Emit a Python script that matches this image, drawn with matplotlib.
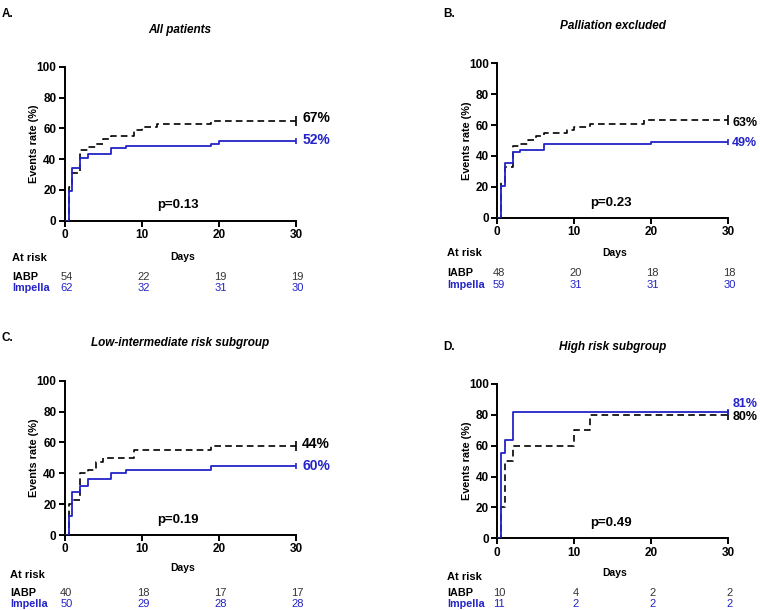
import numpy as np
import matplotlib
matplotlib.use('Agg')
import matplotlib.pyplot as plt
from matplotlib import transforms

plt.rcParams['font.family'] = ['Liberation Sans', 'DejaVu Sans']

# ---- data ----
a_iabp_days = [0, 0.5, 1, 2, 3, 4, 5, 6, 9, 10, 12, 19, 30]
a_iabp_rate = [0, 22, 31, 46, 48, 50, 53, 55, 59, 61, 63, 65, 65]
a_imp_days = [0, 0.5, 1, 2, 3, 6, 8, 19, 20, 30]
a_imp_rate = [0, 19.5, 34, 40.5, 43.5, 47, 48.5, 50, 52, 52]

b_iabp_days = [0, 0.5, 1, 2, 3, 4, 5, 6, 9, 10, 12, 19, 30]
b_iabp_rate = [0, 23, 33, 46.5, 48, 50.5, 53, 55, 57, 59, 61, 63.5, 63.5]
b_imp_days = [0, 0.5, 1, 2, 3, 6, 20, 30]
b_imp_rate = [0, 20.5, 35.5, 42.3, 43.8, 47.5, 49.2, 49.2]

c_iabp_days = [0, 0.5, 1, 2, 3, 4, 5, 9, 19, 30]
c_iabp_rate = [0, 20, 22.5, 40, 42, 47, 50, 55, 57.5, 57.5]
c_imp_days = [0, 0.5, 1, 2, 3, 6, 8, 19, 30]
c_imp_rate = [0, 12, 28, 32, 36, 40, 42, 44.5, 44.5]

d_iabp_days = [0, 0.5, 1, 2, 10, 12, 30]
d_iabp_rate = [0, 20, 50, 60, 70, 80, 80]
d_imp_days = [0, 0.5, 1, 2, 30]
d_imp_rate = [0, 55, 63.6, 81.8, 81.8]

risk_days = [0, 10, 20, 30]
a_risk_iabp = [54, 22, 19, 19]
a_risk_imp = [62, 32, 31, 30]
b_risk_iabp = [48, 20, 18, 18]
b_risk_imp = [59, 31, 31, 30]
c_risk_iabp = [40, 18, 17, 17]
c_risk_imp = [50, 29, 28, 28]
d_risk_iabp = [10, 4, 2, 2]
d_risk_imp = [11, 2, 2, 2]

titles = ['All patients', 'Palliation excluded',
          'Low-intermediate risk subgroup', 'High risk subgroup']
letters = ['A.', 'B.', 'C.', 'D.']
p_values = ['p=0.13', 'p=0.23', 'p=0.19', 'p=0.49']
end_iabp = ['67%', '63%', '44%', '80%']
end_imp = ['52%', '49%', '60%', '81%']
end_iabp_y = [67, 61.5, 59, 78.5]
end_imp_y = [52.5, 48.5, 44.7, 87]

BLUE = '#2323c8'
W, H = 760, 610


def fx(px):
    return px / W


def fy(py):
    return 1 - py / H


fig = plt.figure(figsize=(7.6, 6.1), dpi=100)

# panel geometry in pixels: (left, top, right, bottom)
boxes = [(64.7, 66.7, 296, 220.7), (497.3, 63.3, 728.3, 217.7),
         (64.7, 380.7, 296, 535), (497.3, 384, 728.3, 538.3)]
letter_pos = [(2, 14), (443, 14), (2, 338), (443, 347)]
title_pos = [(180, 30), (613, 26), (180, 343), (613, 347)]
pval_pos = [(178, 205), (611, 203), (178, 520), (611, 523)]
days_y = [257, 253, 568, 573]
risk_rows = [(12, 258, 277, 288), (447, 253, 273, 285),
             (10, 575, 593, 604), (447, 577, 593, 604)]
# right-hand panels run to the figure edge, so their end labels are smaller
end_size = [10, 9, 10, 9]
end_x = [30.8, 30.5, 30.8, 30.5]

curves = [(a_iabp_days, a_iabp_rate, a_imp_days, a_imp_rate),
          (b_iabp_days, b_iabp_rate, b_imp_days, b_imp_rate),
          (c_iabp_days, c_iabp_rate, c_imp_days, c_imp_rate),
          (d_iabp_days, d_iabp_rate, d_imp_days, d_imp_rate)]
risks = [(a_risk_iabp, a_risk_imp), (b_risk_iabp, b_risk_imp),
         (c_risk_iabp, c_risk_imp), (d_risk_iabp, d_risk_imp)]

for i in range(4):
    l, t, r, b = boxes[i]
    ax = fig.add_axes([fx(l), fy(b), (r - l) / W, (b - t) / H])
    di, ri, dm, rm = curves[i]

    ax.step(dm, rm, where='post', color=BLUE, lw=1.3, zorder=3)
    ax.step(di, ri, where='post', color='black', lw=1.2,
            linestyle=(0, (4, 2.5)), zorder=2)
    # censor ticks at the end
    ax.plot([di[-1]], [ri[-1]], marker='|', ms=7, mew=1.2, color='black',
            clip_on=False, zorder=2)
    ax.plot([dm[-1]], [rm[-1]], marker='|', ms=5, mew=1.2, color=BLUE,
            clip_on=False, zorder=3)

    ax.set_xlim(0, 30)
    ax.set_ylim(0, 100)
    ax.set_xticks([0, 10, 20, 30])
    ax.set_yticks([0, 20, 40, 60, 80, 100])
    for s in ['top', 'right']:
        ax.spines[s].set_visible(False)
    for s in ['left', 'bottom']:
        ax.spines[s].set_linewidth(1.4)
    ax.tick_params(direction='out', length=4, width=1.4, labelsize=8.5,
                   pad=2)
    for lab in ax.get_xticklabels() + ax.get_yticklabels():
        lab.set_fontweight('bold')
    ax.set_ylabel('Events rate (%)', fontsize=7.8, fontweight='bold',
                  labelpad=-2)

    ax.text(end_x[i], end_iabp_y[i], end_iabp[i], color='black',
            fontsize=end_size[i], fontweight='bold', va='center',
            ha='left', clip_on=False)
    ax.text(end_x[i], end_imp_y[i], end_imp[i], color=BLUE,
            fontsize=end_size[i], fontweight='bold', va='center',
            ha='left', clip_on=False)

    fig.text(fx(letter_pos[i][0]), fy(letter_pos[i][1]), letters[i],
             fontsize=8.5, fontweight='bold', va='center', ha='left')
    fig.text(fx(title_pos[i][0]), fy(title_pos[i][1]), titles[i],
             fontsize=8.5, fontweight='bold', style='italic',
             va='center', ha='center')
    fig.text(fx(pval_pos[i][0]), fy(pval_pos[i][1]), p_values[i],
             fontsize=9.5, fontweight='bold', va='center', ha='center')
    fig.text(fx((l + r) / 2 + 2), fy(days_y[i]), 'Days', fontsize=7.5,
             fontweight='bold', va='center', ha='center')

    rx, ry0, ry1, ry2 = risk_rows[i]
    fig.text(fx(rx), fy(ry0), 'At risk', fontsize=8, fontweight='bold',
             va='center', ha='left')
    fig.text(fx(rx), fy(ry1), 'IABP', fontsize=7.8, fontweight='bold',
             va='center', ha='left')
    fig.text(fx(rx), fy(ry2), 'Impella', fontsize=7.8, fontweight='bold',
             color=BLUE, va='center', ha='left')
    tr = transforms.blended_transform_factory(ax.transData, fig.transFigure)
    n_iabp, n_imp = risks[i]
    for d, n1, n2 in zip(risk_days, n_iabp, n_imp):
        ax.text(d + 0.2, fy(ry1), str(n1), transform=tr, fontsize=8,
                color='#333333', va='center', ha='center', clip_on=False)
        ax.text(d + 0.2, fy(ry2), str(n2), transform=tr, fontsize=8,
                color=BLUE, va='center', ha='center', clip_on=False)

plt.savefig('out.png', dpi=100)
